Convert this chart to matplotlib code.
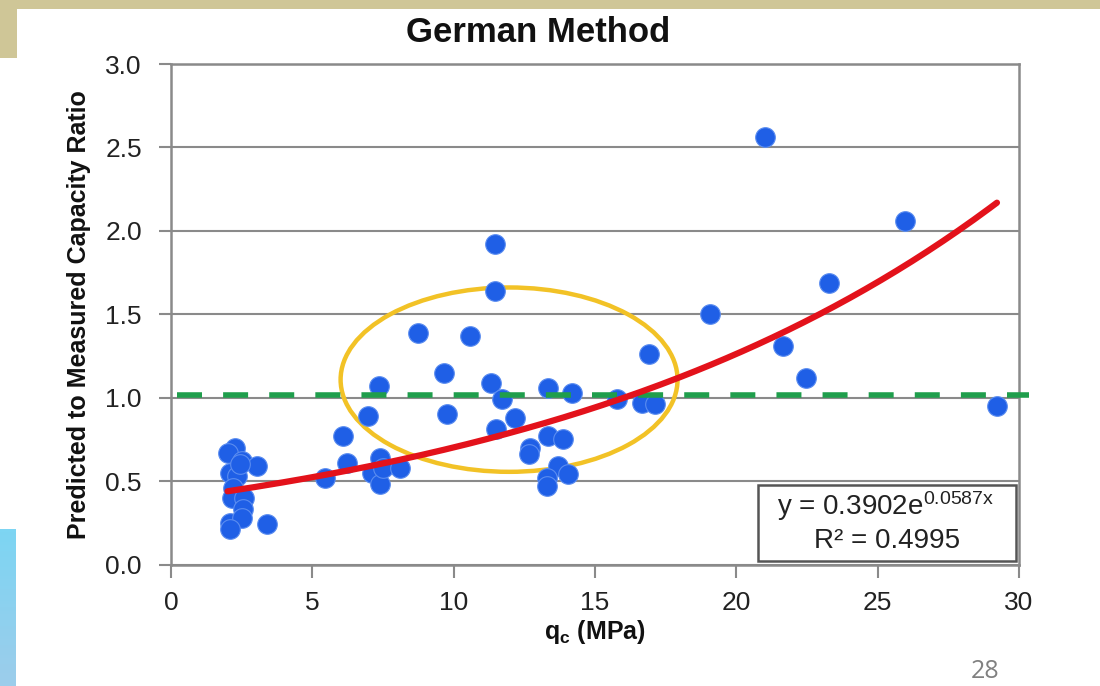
import numpy as np
import matplotlib
matplotlib.use("Agg")
import matplotlib.pyplot as plt
from matplotlib.patches import Ellipse, Rectangle

plt.rcParams["font.family"] = ["Liberation Sans", "DejaVu Sans"]
plt.rcParams["mathtext.fontset"] = "custom"
plt.rcParams["mathtext.rm"] = "Liberation Sans"
plt.rcParams["mathtext.it"] = "Liberation Sans:italic"
plt.rcParams["mathtext.bf"] = "Liberation Sans:bold"

# cone tip resistance qc (MPa) vs predicted/measured capacity ratio
qc = [2.25, 2.0, 2.5, 3.05, 2.1, 2.35, 2.2, 2.15, 2.6, 2.55, 2.1, 2.5, 3.4, 2.1, 2.45,
      5.45, 6.08, 6.23, 6.97, 7.11, 7.39, 7.39, 7.5, 8.1, 7.36,
      8.74, 9.66, 9.76, 10.58, 11.32, 11.46, 11.46, 11.5, 11.71, 12.17, 12.7, 12.65,
      13.34, 13.34, 13.87, 13.69, 13.3, 13.3, 14.04, 14.18,
      15.78, 16.66, 17.12, 16.91, 19.07, 21.01, 21.65, 22.46, 23.28, 25.96, 29.22]
ratio = [0.70, 0.67, 0.62, 0.59, 0.55, 0.53, 0.46, 0.40, 0.40, 0.33, 0.25, 0.28, 0.24, 0.21, 0.60,
         0.52, 0.77, 0.61, 0.89, 0.55, 0.64, 0.48, 0.58, 0.58, 1.07,
         1.39, 1.15, 0.90, 1.37, 1.09, 1.92, 1.64, 0.81, 0.99, 0.88, 0.70, 0.66,
         1.06, 0.77, 0.75, 0.59, 0.52, 0.47, 0.54, 1.03,
         0.99, 0.97, 0.96, 1.26, 1.50, 2.56, 1.31, 1.12, 1.69, 2.06, 0.95]

# exponential trend y = a * exp(b x)
fit_a, fit_b = 0.3902, 0.0587
fit_r2 = 0.4995
unity = 1.015

xticks = [0, 5, 10, 15, 20, 25, 30]
yticks = [0.0, 0.5, 1.0, 1.5, 2.0, 2.5, 3.0]

GRAY = "#8a8a8a"

fig = plt.figure(figsize=(11, 6.86), dpi=100)
fig.patch.set_facecolor("white")

# slide decoration: tan frame at top, blue tab at lower left
fig.add_artist(Rectangle((0, 1 - 9 / 686), 1, 9 / 686, transform=fig.transFigure,
                         facecolor="#cfc697", edgecolor="none"))
fig.add_artist(Rectangle((0, 1 - 58 / 686), 17 / 1100, 58 / 686, transform=fig.transFigure,
                         facecolor="#cfc697", edgecolor="none"))
tab = fig.add_axes([0, 0, 16 / 1100, 157 / 686])
tab.imshow(np.linspace(0, 1, 50).reshape(-1, 1), aspect="auto",
           cmap=matplotlib.colors.LinearSegmentedColormap.from_list("tab", ["#7dd5f3", "#9ccdeb"]))
tab.axis("off")

fig.text(985 / 1100, 1 - 671 / 686, "28", ha="center", va="center", fontsize=18,
         color="#808080", family=["Open Sans", "DejaVu Sans"])

fig.text(538 / 1100, 1 - 33 / 686, "German Method", ha="center", va="center",
         fontsize=25, fontweight="bold", color="#111111")

ax = fig.add_axes([171 / 1100, 1 - 564.5 / 686, 848 / 1100, 500.5 / 686])
ax.set_xlim(0, 30)
ax.set_ylim(0, 3.0)
ax.set_xticks(xticks)
ax.set_yticks(yticks)
ax.set_yticklabels([f"{v:.1f}" for v in yticks])
ax.yaxis.grid(True, color=GRAY, linewidth=1.5)
ax.set_axisbelow(True)
for s in ax.spines.values():
    s.set_color(GRAY)
    s.set_linewidth(1.8)
ax.tick_params(axis="both", direction="out", length=9, width=1.5, color=GRAY,
               labelsize=19, labelcolor="#222222")
ax.tick_params(axis="y", pad=12)
ax.tick_params(axis="x", pad=10)

ax.add_patch(Ellipse((11.96, 1.108), 11.92, 1.105, fill=False, edgecolor="#f2c226",
                     linewidth=3.2, zorder=2.5))

ax.scatter(qc, ratio, s=200, color="#1f5fe6", edgecolor="#5b8df0", linewidth=0.8, zorder=3)

ax.plot([0.2, 30.35], [unity, unity], color="#1f9e4c", linewidth=4, linestyle=(0, (4.5, 3.8)),
        clip_on=False, zorder=4)

xs = np.linspace(min(qc), max(qc), 200)
ax.plot(xs, fit_a * np.exp(fit_b * xs), color="#e3121b", linewidth=4.5,
        solid_capstyle="round", zorder=5)

ax.add_patch(Rectangle((0.692, 0.006), 0.305, 0.153, transform=ax.transAxes,
                       facecolor="white", edgecolor="#555555", linewidth=1.8, zorder=6))
ax.text(0.843, 0.117, f"y = {fit_a:.4f}e$^{{\\mathrm{{{fit_b:.4f}x}}}}$", transform=ax.transAxes,
        ha="center", va="center", fontsize=20, color="#222222", zorder=7)
ax.text(0.845, 0.046, f"R² = {fit_r2:.4f}", transform=ax.transAxes,
        ha="center", va="center", fontsize=20, color="#222222", zorder=7)

ax.set_ylabel("Predicted to Measured Capacity Ratio", fontsize=18, fontweight="bold",
              labelpad=10, color="#111111")
ax.set_xlabel(r"q$_\mathbf{c}$ (MPa)", fontsize=18, fontweight="bold", labelpad=2,
              color="#111111")

fig.savefig("out.png", dpi=100)
